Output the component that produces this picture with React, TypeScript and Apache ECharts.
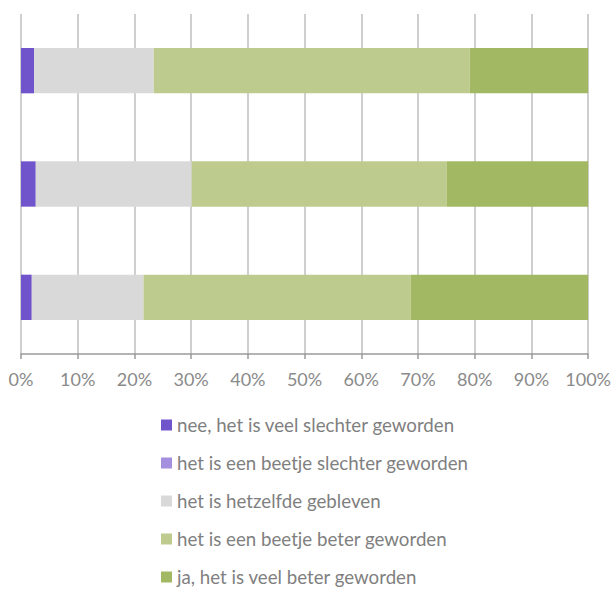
import React, { useEffect, useRef } from "react";
import * as echarts from "echarts";

// Three survey groups, drawn top to bottom
const categories = ["groep 3", "groep 2", "groep 1"];

const seriesNames = [
  "nee, het is veel slechter geworden",
  "het is een beetje slechter geworden",
  "het is hetzelfde gebleven",
  "het is een beetje beter geworden",
  "ja, het is veel beter geworden",
];

// Percentages per answer, in the order of `categories`
const veelSlechter = [1.9, 2.6, 2.3];
const beetjeSlechter = [0, 0, 0];
const hetzelfde = [19.7, 27.5, 21.1];
const beetjeBeter = [47.1, 45.0, 55.7];
const veelBeter = [31.3, 24.9, 20.9];

const seriesValues = [veelSlechter, beetjeSlechter, hetzelfde, beetjeBeter, veelBeter];
const seriesColors = ["#7054CC", "#A58FDF", "#D9D9D9", "#BDCC8E", "#A3B863"];

const FONT = "Lato, 'Noto Sans', sans-serif";

export default function App() {
  const ref = useRef<HTMLDivElement>(null);

  useEffect(() => {
    document.body.style.margin = "0";
    if (!ref.current) return;
    const chart = echarts.init(ref.current, null, { renderer: "svg" });
    chart.setOption({
      animation: false,
      backgroundColor: "#ffffff",
      textStyle: { fontFamily: FONT },
      grid: { left: 21, right: 25, top: 14, bottom: 236, containLabel: false },
      xAxis: {
        type: "value",
        min: 0,
        max: 100,
        interval: 10,
        axisLine: { show: true, lineStyle: { color: "#9a9a9a", width: 1.5 } },
        axisTick: { show: true, length: 5, lineStyle: { color: "#9a9a9a", width: 1.5 } },
        axisLabel: {
          formatter: "{value}%",
          color: "#8a8a8a",
          fontSize: 18,
          fontFamily: FONT,
          margin: 16,
        },
        splitLine: { show: true, lineStyle: { color: "#bfbfbf", width: 1.5 } },
      },
      yAxis: {
        type: "category",
        data: categories,
        axisLine: { show: false },
        axisTick: { show: false },
        axisLabel: { show: false },
      },
      legend: {
        orient: "vertical",
        left: 161,
        top: 415,
        height: 200,
        padding: 0,
        itemWidth: 11,
        itemHeight: 11,
        itemGap: 18,
        icon: "rect",
        textStyle: { color: "#7f7f7f", fontSize: 18.7, fontFamily: FONT, lineHeight: 20 },
        data: seriesNames,
      },
      series: seriesNames.map((name, i) => ({
        name,
        type: "bar",
        stack: "total",
        barWidth: "40%",
        itemStyle: { color: seriesColors[i] },
        data: seriesValues[i],
      })),
    });
    return () => chart.dispose();
  }, []);

  return <div ref={ref} style={{ width: 614, height: 590 }} />;
}
